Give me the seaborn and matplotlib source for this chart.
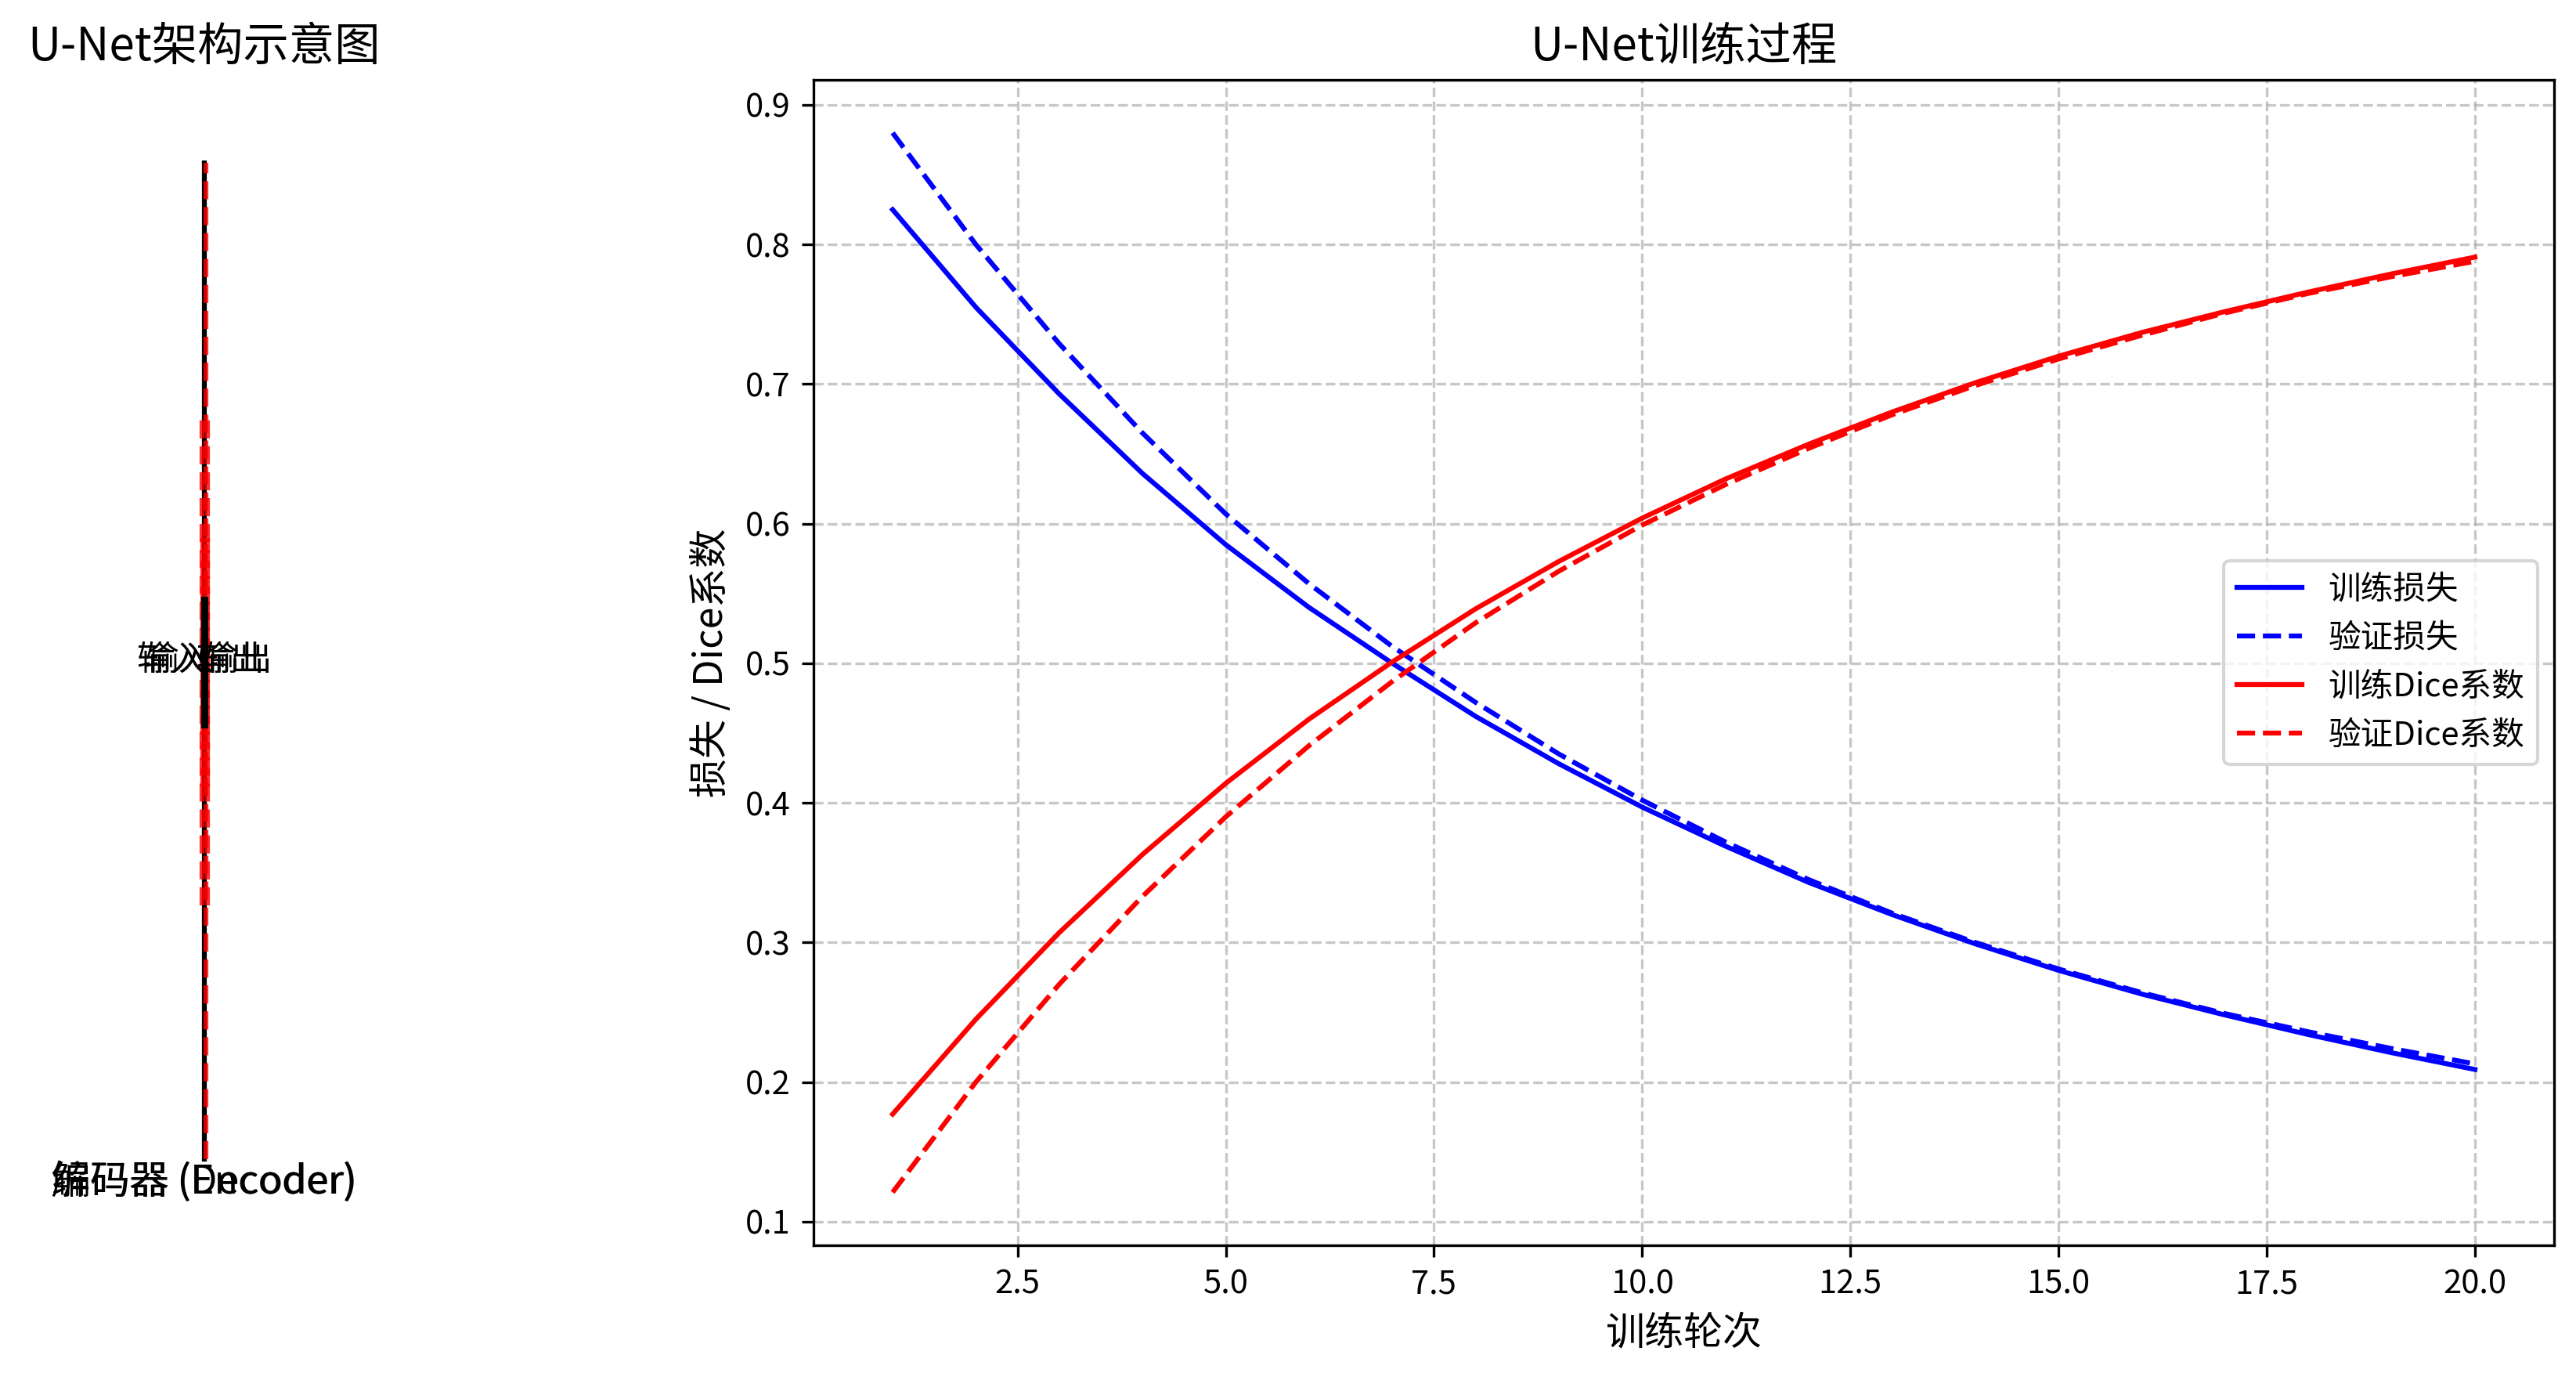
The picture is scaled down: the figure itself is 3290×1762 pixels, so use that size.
import matplotlib
matplotlib.use("Agg")
import matplotlib.pyplot as plt
import pandas as pd
import seaborn as sns

plt.rcParams["font.family"] = ["Noto Sans CJK SC", "DejaVu Sans"]
plt.rcParams["axes.unicode_minus"] = False

# training curves
EPOCHS = list(range(1, 21))
TRAIN_LOSS = [0.825, 0.755, 0.693, 0.636, 0.585, 0.540, 0.500, 0.462, 0.428, 0.397,
              0.369, 0.343, 0.320, 0.299, 0.280, 0.263, 0.248, 0.234, 0.221, 0.209]
VAL_LOSS = [0.880, 0.800, 0.729, 0.665, 0.607, 0.557, 0.512, 0.472, 0.435, 0.402,
            0.372, 0.345, 0.321, 0.300, 0.281, 0.264, 0.249, 0.236, 0.224, 0.213]
TRAIN_DICE = [0.177, 0.245, 0.307, 0.363, 0.414, 0.460, 0.501, 0.539, 0.573, 0.604,
              0.632, 0.657, 0.680, 0.701, 0.720, 0.737, 0.752, 0.766, 0.779, 0.791]
VAL_DICE = [0.121, 0.200, 0.270, 0.333, 0.390, 0.441, 0.487, 0.529, 0.566, 0.599,
            0.628, 0.654, 0.678, 0.699, 0.718, 0.735, 0.751, 0.765, 0.777, 0.788]
SERIES = [
    ("训练损失", TRAIN_LOSS, "blue", "-"),
    ("验证损失", VAL_LOSS, "blue", "--"),
    ("训练Dice系数", TRAIN_DICE, "red", "-"),
    ("验证Dice系数", VAL_DICE, "red", "--"),
]

# collapsed U-Net sketch (diagram units, the panel is squeezed to a line)
STEM_X = 0.0
STEM_Y = [0.74, 9.29]
SKIP_X = [0.008, -0.015, 0.022, -0.010, 0.018]
SKIP_Y0 = [0.74, 2.92, 2.92, 3.94, 3.94]
SKIP_Y1 = [9.29, 7.14, 7.14, 6.07, 6.07]
BOTTLENECK_Y = [4.47, 5.54]
IO_LABELS = ["输入", "输入", "输出", "输出"]
IO_X = [-0.215, -0.165, 0.165, 0.215]
IO_Y = 5.02
PATH_LABELS = ["编码器 (Encoder)", "解码器 (Decoder)"]
PATH_Y = 0.54

W, H = 3290, 1762
fig = plt.figure(figsize=(W / 300, H / 300), dpi=300)
ax_top, ax_bot = 102, 1590
ax_l = fig.add_axes([61 / W, 1 - ax_bot / H, 400 / W, (ax_bot - ax_top) / H])
ax_r = fig.add_axes([1039 / W, 1 - ax_bot / H, (3262 - 1039) / W, (ax_bot - ax_top) / H])

# left: architecture sketch
ax_l.set_xlim(-1, 1)
ax_l.set_ylim(0, 10)
ax_l.plot([STEM_X, STEM_X], STEM_Y, color="black", lw=1.5)
for x, y0, y1 in zip(SKIP_X, SKIP_Y0, SKIP_Y1):
    ax_l.plot([x, x], [y0, y1], color="red", ls="--", lw=1.5, alpha=0.8)
ax_l.plot([STEM_X, STEM_X], BOTTLENECK_Y, color="black", lw=2.2)
for label, x in zip(IO_LABELS, IO_X):
    ax_l.text(x, IO_Y, label, ha="center", va="center", fontsize=10.5)
for label in PATH_LABELS:
    ax_l.text(STEM_X, PATH_Y, label, ha="center", va="center", fontsize=12)
ax_l.set_title("U-Net架构示意图", fontsize=14)
ax_l.axis("off")

# right: training curves
for label, values, color, ls in SERIES:
    df = pd.DataFrame({"epoch": EPOCHS, "value": values})
    sns.lineplot(data=df, x="epoch", y="value", color=color, linestyle=ls,
                 linewidth=1.5, label=label, ax=ax_r)
ax_r.set_title("U-Net训练过程", fontsize=14)
ax_r.set_xlabel("训练轮次", fontsize=12)
ax_r.set_ylabel("损失 / Dice系数", fontsize=12)
ax_r.grid(True, linestyle="--", alpha=0.7)
ax_r.legend(loc="center right")

fig.savefig("out.png", dpi=300)
